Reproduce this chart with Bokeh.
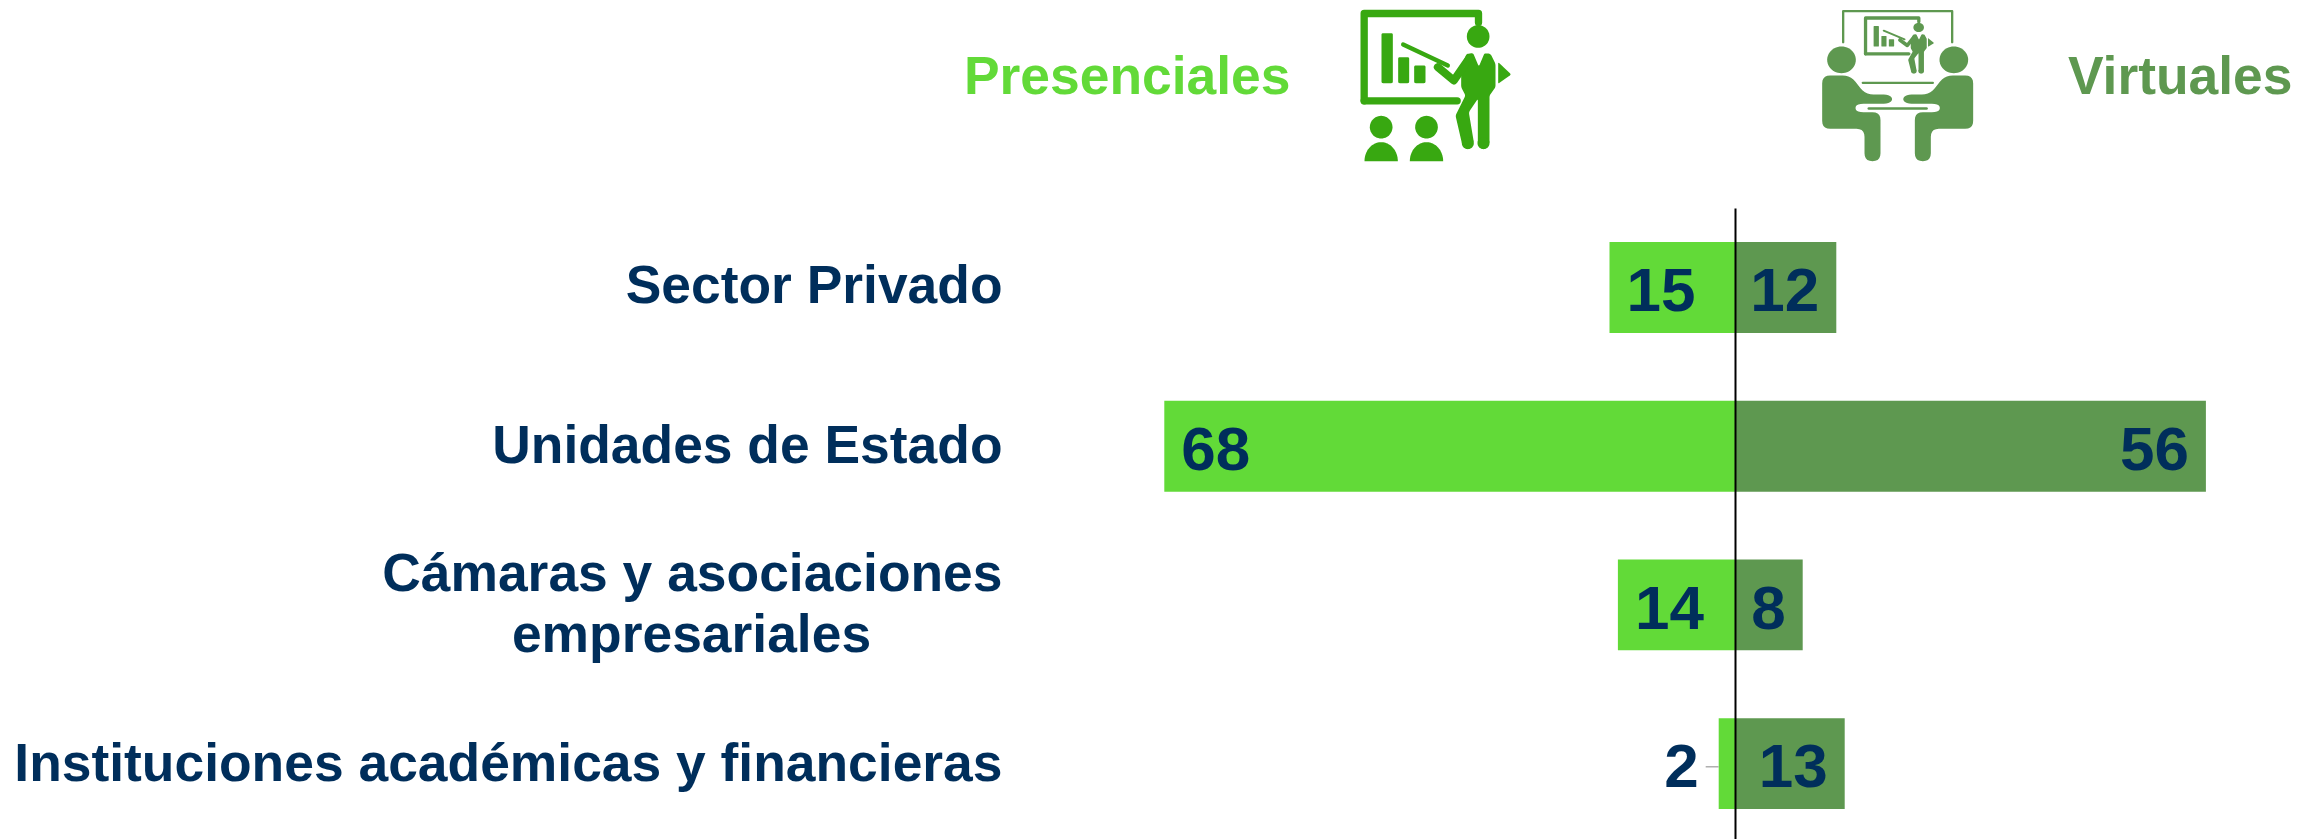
import numpy as np
from bokeh.plotting import figure
from bokeh.models import Range1d
from bokeh.core.properties import value
from bokeh.embed import file_html
from bokeh.resources import INLINE

categories = ["Sector Privado", "Unidades de Estado", "Cámaras y asociaciones\nempresariales", "Instituciones académicas y financieras"]
presenciales = [15, 68, 14, 2]
virtuales = [12, 56, 8, 13]
series_names = ["Presenciales", "Virtuales"]

C_LIGHT = "#62DA38"
C_DARK = "#5E9850"
C_ICON = "#38A811"
C_TEXT = "#002E5B"
FONT = value("Liberation Sans")

W, H = 2320, 839
PX_PER_UNIT = 8.4
ZERO_PX = 1735
ROW0 = 287.0
PITCH = 158.7

p = figure(width=W, height=H, output_backend="svg", toolbar_location=None,
           x_range=Range1d((0 - ZERO_PX) / PX_PER_UNIT, (W - ZERO_PX) / PX_PER_UNIT),
           y_range=Range1d((H - ROW0) / PITCH, (0 - ROW0) / PITCH),
           min_border=0, min_border_left=0, min_border_right=0, min_border_top=0, min_border_bottom=0,
           outline_line_color=None, background_fill_color="white", border_fill_color="white")
p.extra_x_ranges["px"] = Range1d(0, W)
p.extra_y_ranges["px"] = Range1d(H, 0)
p.axis.visible = False
p.grid.visible = False
PX = dict(x_range_name="px", y_range_name="px")

# ---- bars
rows = list(range(len(categories)))
p.hbar(y=rows, left=[-v for v in presenciales], right=0, height=0.573, fill_color=C_LIGHT, line_color=None)
p.hbar(y=rows, left=0, right=virtuales, height=0.573, fill_color=C_DARK, line_color=None)

# ---- zero line
p.segment(x0=[ZERO_PX], x1=[ZERO_PX], y0=[208], y1=[H], line_color="black", line_width=2, **PX)

# ---- value labels
lab = dict(text_font=FONT, text_font_style="bold", text_font_size="62px",
           text_color=C_TEXT, text_baseline="middle")
ylab = [r + 0.017 for r in rows]
inside = [i for i, v in enumerate(presenciales) if v >= 5]
outside = [i for i, v in enumerate(presenciales) if v < 5]
p.text(x=[-presenciales[i] for i in inside], y=[ylab[i] for i in inside],
       text=[str(presenciales[i]) for i in inside], text_align="left", x_offset=17, **lab)
p.text(x=[-presenciales[i] for i in outside], y=[ylab[i] for i in outside],
       text=[str(presenciales[i]) for i in outside], text_align="right", x_offset=-20, **lab)
p.text(x=virtuales, y=ylab, text=[str(v) for v in virtuales], text_align="right", x_offset=-17, **lab)
p.segment(x0=[-presenciales[i] - 1.55 for i in outside], x1=[-presenciales[i] for i in outside],
          y0=[rows[i] + 0.02 for i in outside], y1=[rows[i] + 0.02 for i in outside],
          line_color="#B0B0B0", line_width=1.5)

# ---- category labels
cat = dict(text_font=FONT, text_font_style="bold", text_font_size="53.4px",
           text_color=C_TEXT, text_baseline="middle")
p.text(x=[1002], y=[284], text=[categories[0]], text_align="right", **cat, **PX)
p.text(x=[1002], y=[444], text=[categories[1]], text_align="right", **cat, **PX)
l1, l2 = categories[2].split("\n")
p.text(x=[1002], y=[572], text=[l1], text_align="right", **cat, **PX)
p.text(x=[691], y=[633], text=[l2], text_align="center", **cat, **PX)
p.text(x=[1002], y=[762], text=[categories[3]], text_align="right", **cat, **PX)

# ---- headers
hdr = dict(text_font=FONT, text_font_style="bold", text_font_size="53.4px", text_baseline="middle")
p.text(x=[1290], y=[75], text=[series_names[0]], text_align="right", text_color=C_LIGHT, **hdr, **PX)
p.text(x=[2292], y=[75], text=[series_names[1]], text_align="right", text_color=C_DARK, **hdr, **PX)

# ---- pictograms (decoration, traced in zoom-crop coordinates)
def ell(cx, cy, rx, ry=None, a0=0, a1=360):
    ry = rx if ry is None else ry
    t = np.radians(np.linspace(a0, a1, 49))
    return list(cx + rx * np.cos(t)), list(cy + ry * np.sin(t))

def poly(pts):
    return [a for a, _ in pts], [b for _, b in pts]

def rounded(xy, r=8, n=6):
    """Round each corner of a closed polygon with a quadratic curve of reach r."""
    pts = np.column_stack(xy).astype(float)
    out = []
    m = len(pts)
    for i in range(m):
        a, b, c = pts[i - 1], pts[i], pts[(i + 1) % m]
        ra = min(r, np.linalg.norm(a - b) / 2)
        rc = min(r, np.linalg.norm(c - b) / 2)
        s = b + (a - b) / np.linalg.norm(a - b) * ra
        e = b + (c - b) / np.linalg.norm(c - b) * rc
        for t in np.linspace(0, 1, n):
            out.append((1 - t) ** 2 * s + 2 * t * (1 - t) * b + t ** 2 * e)
    out = np.array(out)
    return list(out[:, 0]), list(out[:, 1])

def teacher():
    P, L = [], []
    # board
    L += [(poly([(71, 301), (71, 39), (414, 39), (414, 66)]), 22),
          (poly([(71, 301), (350, 301)]), 22)]
    # bars
    P += [rounded(poly([(123, 98), (157, 98), (157, 248), (123, 248)]), 5),
          rounded(poly([(173, 170), (206, 170), (206, 248), (173, 248)]), 5),
          rounded(poly([(221, 195), (255, 195), (255, 248), (221, 248)]), 5)]
    # pointer and arm
    L += [(poly([(188, 132), (322, 195)]), 13),
          (poly([(292, 200), (340, 240), (385, 175)]), 24)]
    # head, body, legs
    P += [ell(413, 108, 34),
          rounded(poly([(378, 160), (398, 158), (415, 198), (432, 158), (450, 160), (465, 190), (465, 260),
                (447, 285), (447, 430), (412, 430), (412, 295), (385, 335), (400, 425), (365, 432),
                (345, 345), (375, 285), (362, 260), (362, 200)]), 6),
          ell(429, 428, 18), ell(382, 428, 18),
          rounded(poly([(473, 185), (512, 222), (473, 250)]), 5)]
    # audience
    for cx in (122, 258):
        P.append(ell(cx, 380, 34))
        xs, ys = ell(cx, 482, 50, 57, 180, 360)
        P.append((xs, ys))
    return P, L

def person():
    return rounded(poly([(35, 225), (120, 225), (165, 282), (235, 282), (248, 296), (235, 310),
                 (135, 310), (135, 335), (210, 335), (210, 482), (162, 482),
                 (162, 385), (35, 385)]), 24)

def draw(P, L, fn, color, wscale=1.0):
    xs, ys = [], []
    for px_, py_ in P:
        a, b = fn(np.array(px_), np.array(py_))
        xs.append(list(a)); ys.append(list(b))
    p.patches(xs, ys, fill_color=color, line_color=None, **PX)
    for (px_, py_), w in L:
        a, b = fn(np.array(px_), np.array(py_))
        p.line(list(a), list(b), line_color=color, line_width=w / 3 * wscale,
               line_cap="round", line_join="round", **PX)

# large presenter
P1, L1 = teacher()
draw(P1, L1, lambda x, y: (1340 + x / 3, y / 3), C_ICON)

# meeting icon
z2 = lambda x, y: (1810 + x / 3, y / 3)
mirror = lambda x: 523 - np.array(x)
Pm = [ell(93, 178, 43, 40), ell(430, 178, 43, 40)]
bx, by = person()
Pm += [(bx, by), (list(mirror(bx)), by)]
Lm = [(poly([(98, 125), (98, 32), (425, 32), (425, 125)]), 7),
      (poly([(157, 247), (367, 247)]), 7),
      (poly([(175, 324), (348, 324)]), 8)]
draw(Pm, Lm, z2, C_DARK)

# small presenter inside the meeting icon (without audience)
P2, L2 = teacher()
P2 = P2[:-4]
small = lambda x, y: (1810 + (160 + (x - 60) * 0.466) / 3, (48 + (y - 28) * 0.41) / 3)
draw(P2, L2, small, C_DARK, wscale=0.45)

open("out.html", "w").write(file_html(p, INLINE))
